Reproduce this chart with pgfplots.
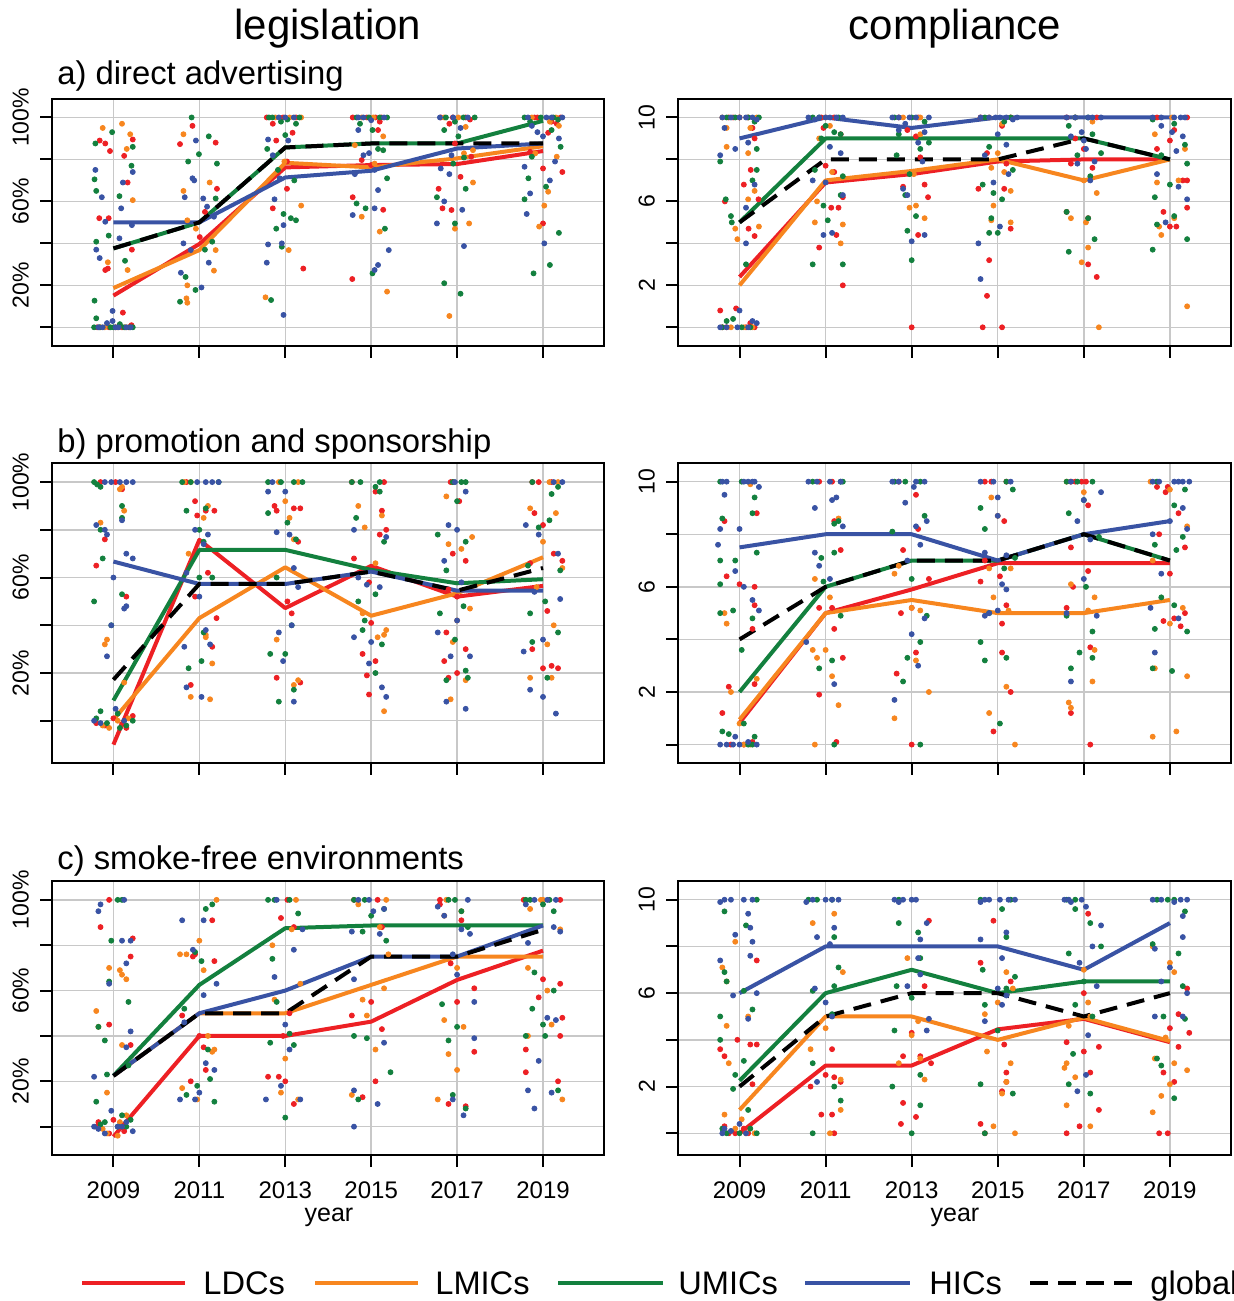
\documentclass[border=0pt]{standalone}
\usepackage{fontspec}
\setmainfont{Liberation Sans}
\usepackage{pgfplots}
\pgfplotsset{compat=1.18}
\definecolor{cL}{RGB}{237,32,36}
\definecolor{cM}{RGB}{247,134,31}
\definecolor{cU}{RGB}{19,128,62}
\definecolor{cH}{RGB}{57,83,164}
\definecolor{gridc}{RGB}{200,200,200}
\pgfplotsset{
  panel/.style={
    scale only axis, anchor=south west, width=276pt,
    xmin=2007.57, xmax=2020.42,
    xtick={2009,2011,2013,2015,2017,2019},
    xticklabels={},
    tick align=outside, tick pos=left,
    major tick length=6pt,
    major tick style={black, line width=1pt},
    axis line style={black, line width=1pt},
    grid=major, major grid style={gridc, line width=0.7pt},
    yticklabel style={rotate=90, anchor=south, font=\fontsize{11.5}{13}\selectfont},
    yticklabel shift=2pt,
    xticklabel style={font=\fontsize{12}{14}\selectfont},
    xticklabel shift=4pt,
    clip=true,
  },
  legis/.style={ytick={0,20,40,60,80,100}, yticklabels={,20\%,,60\%,,100\%}},
  compl/.style={ytick={0,2,4,6,8,10}, yticklabels={,2,,6,,10}},
  yrlab/.style={xticklabels={2009,2011,2013,2015,2017,2019}},
  dL/.style={only marks, mark=*, mark size=1.25pt, color=cL, mark options={draw=none, fill=cL}},
  dM/.style={only marks, mark=*, mark size=1.25pt, color=cM, mark options={draw=none, fill=cM}},
  dU/.style={only marks, mark=*, mark size=1.25pt, color=cU, mark options={draw=none, fill=cU}},
  dH/.style={only marks, mark=*, mark size=1.25pt, color=cH, mark options={draw=none, fill=cH}},
  lL/.style={cL, line width=2pt, mark=none, line join=round},
  lM/.style={cM, line width=2pt, mark=none, line join=round},
  lU/.style={cU, line width=2pt, mark=none, line join=round},
  lH/.style={cH, line width=2pt, mark=none, line join=round},
  lG/.style={black, line width=2pt, mark=none, dash pattern=on 9pt off 5pt},
}
\begin{document}
\begin{tikzpicture}
\path[use as bounding box] (0,0) rectangle (617pt,650.5pt);

% ---------------- a) legislation
\begin{axis}[panel, legis, at={(26pt,477.5pt)}, height=123.5pt, ymin=-8.9, ymax=108.8]
\addplot[dL] coordinates {(2008.68,89)(2008.81,87.6)(2008.92,84)(2009.25,81.7)(2009.45,89.5)(2009.33,69)(2008.67,52)(2008.89,52)(2009.43,37)(2008.87,28)(2008.81,27.3)(2009.22,7)(2008.9,0)(2009.2,0)(2009.35,0)
(2010.84,96)(2010.55,87.3)(2011.38,88)(2011.41,66)(2011.13,55)(2011.01,43)
(2012.57,100)(2013.25,100)(2012.71,97)(2012.79,89)(2013.17,92.7)(2013.04,79)(2013.04,66)(2012.71,56.7)(2013.42,28)
(2014.57,100)(2015.24,100)(2015.2,98)(2015.16,94)(2014.78,79.7)(2015,77.3)(2014.57,62)(2015.28,56)(2014.56,23)
(2016.62,100)(2017.2,100)(2016.82,97)(2016.95,87.6)(2017.33,81.3)(2017.08,71.7)(2016.57,66)(2016.87,55.9)(2016.66,56.7)
(2018.87,100)(2019.41,100)(2019.32,97)(2019.12,92.7)(2018.7,83.6)(2019,75.7)(2019.45,74)(2019,49.5)
(2008.62,0)(2009.05,0)(2009.42,1)(2012.95,100)(2014.9,100)(2015.1,100)(2016.9,100)(2017.3,99)(2018.8,100)(2019.2,98)};
\addplot[dM] coordinates {(2008.75,95)(2009.2,97)(2009.39,92)(2009.31,85)(2009.45,60.6)(2008.87,31)(2009.33,27.3)(2008.7,0)(2009.1,0)
(2010.63,92)(2011.24,69)(2010.63,65)(2010.72,51)(2010.92,47)(2011.38,36.8)(2011.34,27)(2010.72,20)(2010.7,13.8)(2010.72,11.7)
(2012.77,100)(2013.37,100)(2012.98,79)(2013.37,58)(2013.08,36.8)(2012.54,14.3)
(2014.78,100)(2015.28,91)(2014.62,86.8)(2015.08,78)(2014.78,52.7)(2015.2,45.6)(2015.37,17)
(2017.03,100)(2017.2,95.5)(2017.37,84.4)(2017.16,82.9)(2017.37,69)(2017.28,49.5)(2016.95,47)(2016.82,5.4)
(2018.74,100)(2019.16,98)(2019.37,96)(2018.82,82.9)(2019.32,81.3)(2019.12,64.6)(2019.03,58)(2018.91,48)
(2008.8,0)(2009.28,0)(2013.1,100)(2015.05,100)(2016.7,100)(2019.3,100)};
\addplot[dU] coordinates {(2008.58,87.6)(2008.97,93)(2009.45,86)(2009.42,77)(2008.56,70.5)(2008.6,65)(2009.14,62.5)(2008.89,43.7)(2008.6,40.8)(2009.27,31.7)(2008.56,12.7)(2008.6,4.3)(2008.55,0)(2009,0)(2009.25,0)(2009.45,0)
(2010.82,100)(2011.22,91)(2010.99,82.5)(2010.74,79)(2011.41,78)(2011.38,61.4)(2011.3,40.8)(2011.13,37)(2010.68,24)(2010.91,17.8)(2010.55,12.2)
(2012.62,100)(2013.33,100)(2012.9,98)(2013.25,97)(2012.58,85)(2013,91.6)(2012.83,75)(2013.21,70)(2012.96,54)(2013.13,52)(2013.25,51)(2012.79,47)(2012.92,38.4)(2012.67,13)
(2014.66,100)(2015.37,100)(2014.74,97)(2015.03,94)(2015.28,84.4)(2015.16,85)(2015.37,71)(2014.66,59)(2014.87,56.7)(2015.32,47)(2015.03,25.7)
(2016.74,100)(2017.41,100)(2016.7,94)(2017.03,91)(2017.16,80.9)(2016.91,78)(2017.2,66)(2016.53,62)(2016.95,49.5)(2016.7,21)(2017.08,16)
(2018.57,100)(2019.24,100)(2018.7,98)(2019.2,94)(2019.41,86)(2018.74,81.3)(2018.66,71)(2018.57,61)(2019.07,67)(2019.37,45)(2018.78,25.7)(2019.16,29.7)
(2008.68,0)(2008.93,0)(2009.15,1.5)(2009.38,0)(2012.7,100)(2013.05,99)(2014.95,100)(2015.2,100)(2017.15,100)(2016.95,98)(2018.95,100)(2019.35,99)};
\addplot[dH] coordinates {(2008.58,75)(2008.73,62)(2009.22,69)(2009.45,74)(2009.18,56.7)(2008.81,50.3)(2009.43,48.7)(2009.14,42.4)(2008.6,37)(2008.68,33)(2008.98,7.8)(2008.85,2)(2008.65,0)(2009.05,0)(2009.3,0)
(2010.92,89)(2010.84,71)(2010.88,70)(2010.66,62)(2011.09,61.4)(2011.18,57.5)(2011.34,52.7)(2010.63,40)(2010.8,36.8)(2011.22,30.8)(2010.57,26)(2011.05,19)
(2013,100)(2012.6,89.5)(2013.07,89)(2012.71,82)(2012.87,71)(2012.75,61)(2012.96,48.7)(2012.6,39.5)(2012.57,30.8)(2012.96,5.9)(2012.92,40)
(2014.82,100)(2015,98.7)(2014.7,94)(2014.82,82)(2014.95,83)(2015.08,75)(2014.62,73)(2015.16,65.4)(2014.57,53.5)(2015.08,56.7)(2015.41,36.8)(2015.16,29.7)(2015.08,27.3)
(2016.91,100)(2017.08,95)(2016.87,82)(2016.62,75.7)(2016.82,73)(2016.7,60)(2017.12,56)(2016.53,49.5)(2017.16,38.7)
(2019.08,100)(2018.74,96)(2018.87,93)(2019,91)(2019.37,90)(2019.28,79)(2018.57,76.5)(2019.16,70)(2018.7,63.8)(2018.62,54)(2019.03,40)
(2008.75,0)(2008.98,3)(2009.12,0)(2009.4,0)(2012.85,100)(2013.2,100)(2014.7,100)(2015.3,100)(2017.25,100)(2016.6,100)(2018.65,100)(2019.2,100)(2019.45,100)};
\addplot[lL] coordinates {(2009,15.1)(2011,39.7)(2013,76.2)(2015,77.3)(2017,77.8)(2019,84)};
\addplot[lM] coordinates {(2009,18.7)(2011,36.8)(2013,78.4)(2015,76.2)(2017,80.5)(2019,86.3)};
\addplot[lU] coordinates {(2009,37.6)(2011,50)(2013,85.7)(2015,87.6)(2017,87.6)(2019,98.4)};
\addplot[lH] coordinates {(2009,50)(2011,50)(2013,71.4)(2015,74.6)(2017,85.2)(2019,87.6)};
\addplot[lG] coordinates {(2009,37.6)(2011,50)(2013,85.7)(2015,87.6)(2017,87.6)(2019,87.6)};
\end{axis}

% ---------------- a) compliance
\begin{axis}[panel, compl, at={(339pt,477.5pt)}, width=276.5pt, height=123.5pt, ymin=-0.89, ymax=10.88]
\addplot[dL] coordinates {(2008.55,0.8)(2008.92,0.9)(2008.7,0)(2009.15,0)(2009.35,0)(2009,10)(2008.75,10)(2009.3,9.5)(2009.35,9)(2009.26,7.5)(2008.66,6)(2009.44,6.1)(2009.35,4.35)(2009.21,4.7)(2009.1,6.8)
(2010.9,10)(2011.2,10)(2010.95,9.5)(2011.35,9.2)(2011,7.7)(2011.2,7.4)(2010.85,3.8)(2011.13,5.7)(2011.4,6.2)(2011.4,2)(2011.25,4.4)(2011.3,5.7)
(2012.7,10)(2013.15,10)(2012.9,9.4)(2013.1,9.1)(2013.2,8.1)(2013.3,6.8)(2012.8,6.7)(2013.38,6.2)(2013.15,4.4)(2013,0)
(2014.6,10)(2015.3,10)(2015.1,9.6)(2014.75,8.3)(2015.2,7.8)(2014.55,6.6)(2015.15,6.6)(2015.3,4.7)(2014.8,3.2)(2014.75,1.5)(2014.65,0)(2015.1,0)
(2016.6,10)(2017.3,10)(2016.8,9)(2017,8.5)(2017.2,7.6)(2016.6,5.5)(2017.1,5.2)(2017.1,3)(2017.3,2.4)(2016.7,7.8)
(2018.7,10)(2019.4,10)(2019.1,9.4)(2019,8.9)(2018.7,8.5)(2019.4,7)(2018.85,5.5)(2019,4.8)(2019.15,4.8)(2019.4,5.7)(2019.3,7)
(2008.85,10)(2009.2,10)(2008.6,0)(2009.25,0.2)};
\addplot[dM] coordinates {(2008.7,9.5)(2009,10)(2009.25,9.5)(2008.7,8.6)(2009.2,8.3)(2008.95,4.2)(2008.9,4.7)(2009.35,6.5)(2009.45,4.8)(2009.2,6.1)(2009.1,0)
(2010.85,9)(2011.1,9.6)(2010.8,6)(2010.75,5)(2011.35,4)(2011.4,4.9)(2011.15,7.4)(2011,10)
(2012.8,10)(2013.2,10)(2013.2,9.2)(2013.05,7.3)(2012.95,5.7)(2013.3,5.2)(2013.1,5.8)
(2014.8,10)(2015.1,9.7)(2014.85,7.6)(2015.15,7.4)(2014.9,5.8)(2014.85,5.1)(2015.3,5)(2015.3,6.5)(2015,8.3)
(2016.8,10)(2017.2,9.8)(2017,7)(2017.3,6.4)(2016.7,5.2)(2017.05,5)(2016.95,3.1)(2017.1,3.8)(2017.35,0)
(2018.65,9.2)(2019.05,10)(2018.7,6.9)(2019.1,5.2)(2018.75,4.8)(2018.8,4.4)(2019.2,7)(2019.4,1)(2019.35,8.5)
(2008.6,10)(2009.4,10)(2008.8,0)(2009.3,0)};
\addplot[dU] coordinates {(2008.55,7.9)(2008.7,10)(2009.2,10)(2009.35,9.8)(2009.4,8.5)(2008.68,6.1)(2008.8,5.3)(2008.82,5)(2009.4,7.5)(2009.3,7)(2009.15,3)(2008.6,0)(2009.25,0)(2008.85,0.4)
(2010.7,10)(2011,9.6)(2011.35,9.2)(2011.2,9.3)(2010.9,9)(2010.75,7.5)(2011.35,6.3)(2011.4,7.2)(2010.95,5.8)(2010.7,3)(2011.4,3)(2011.05,5.1)
(2012.6,10)(2013,10)(2013.3,9.8)(2012.7,9.2)(2013.2,8.5)(2013.4,8.8)(2012.65,8.2)(2012.95,7.3)(2012.85,6.3)(2013.1,5.3)(2012.9,4.6)(2013,3.2)
(2014.7,10)(2015.3,10)(2015.15,9.8)(2014.8,8.6)(2015.35,7.5)(2014.65,6.8)(2014.9,6.4)(2015.1,6.1)(2014.85,5.2)(2015,4.5)(2014.8,4.5)
(2016.8,10)(2017.1,10)(2016.65,9.6)(2017.2,9.2)(2016.85,8.2)(2017.15,7.2)(2016.6,5.5)(2017.1,5.2)(2017.25,4.2)(2016.65,3.6)(2017.4,8.3)
(2018.6,9.9)(2019.1,9.7)(2019.35,8.7)(2018.8,8.2)(2019.4,7.8)(2018.65,6.2)(2019,6.8)(2018.7,4.9)(2019.1,5.3)(2019.4,4.2)(2018.6,3.7)
(2008.9,10)(2009.45,10)(2008.7,0.3)(2009.05,0)(2010.85,10)(2011.3,10)};
\addplot[dH] coordinates {(2008.55,8.2)(2008.65,9.5)(2008.9,8.5)(2009,10)(2009.3,10)(2009.4,9.9)(2009.2,8.8)(2009.35,6.8)(2009.15,5.7)(2009.15,4)(2009,0.8)(2008.7,0)(2009.2,0)(2009.3,0.3)
(2010.75,9.9)(2011,10)(2011.25,10)(2011.35,8.3)(2011.1,8.6)(2010.7,7)(2011,6.9)(2011.4,6.3)(2011.15,4.5)(2010.95,4.4)
(2012.7,10)(2013.1,10)(2012.85,9.7)(2013.3,9.3)(2013.15,8.8)(2012.8,6.6)(2012.9,6.3)(2013.25,7.9)(2013,4.1)(2013.3,4.4)(2012.7,9.4)
(2014.8,10)(2015.05,10)(2015.35,9.9)(2015,9.2)(2014.7,8.2)(2015.2,8.7)(2015.25,7.3)(2014.9,6.9)(2015.05,4.8)(2014.55,4)(2014.6,2.3)
(2016.6,10)(2017.2,10)(2016.95,9.3)(2016.7,9.1)(2017.05,8.5)(2017.25,7.9)(2016.85,7.8)(2017.15,7)(2017,8.9)
(2018.6,10)(2019.35,10)(2018.8,9.6)(2019.05,9.3)(2019.3,9.1)(2019.15,8.4)(2018.7,7.3)(2019.4,6.1)(2019.2,6.7)(2018.9,5)
(2008.6,10)(2008.8,10)(2009.15,10)(2008.55,0)(2008.95,0)(2009.4,0.2)(2010.6,10)(2010.85,10)(2011.1,10)(2011.4,10)(2012.55,10)(2012.95,10)(2013.4,10)(2014.6,10)(2014.95,10)(2015.2,10)(2015.45,10)(2016.8,10)(2017.1,10)(2017.4,10)(2018.8,10)(2019.1,10)(2019.25,10)};
\addplot[lL] coordinates {(2009,2.4)(2011,6.9)(2013,7.3)(2015,7.9)(2017,8)(2019,8)};
\addplot[lM] coordinates {(2009,2.0)(2011,7.0)(2013,7.45)(2015,8)(2017,7.0)(2019,8)};
\addplot[lU] coordinates {(2009,5)(2011,9)(2013,9)(2015,9)(2017,9)(2019,8)};
\addplot[lH] coordinates {(2009,9)(2011,10)(2013,9.5)(2015,10)(2017,10)(2019,10)};
\addplot[lG] coordinates {(2009,5)(2011,8)(2013,8)(2015,8)(2017,9)(2019,8)};
\end{axis}

% ---------------- b) legislation
\begin{axis}[panel, legis, at={(26pt,269pt)}, height=150pt, ymin=-17.7, ymax=108]
\addplot[dL] coordinates {(2008.7,100)(2009.2,97)(2008.8,76)(2009.3,52)(2008.6,65)(2008.8,-2)(2009,1)(2009.2,-1.5)(2009.45,2)
(2010.7,100)(2010.9,92)(2010.95,86)(2011.15,88)(2011.35,88)(2011.2,62)(2010.9,52)(2011.4,43)(2011.3,31)(2010.8,15)
(2012.75,90)(2012.8,88)(2013.2,89)(2013.35,89)(2013.3,75)(2013.05,50)(2013.15,45)(2012.8,18)(2013.35,16)
(2014.55,100)(2015.1,96)(2015.25,88)(2015.2,78)(2015.35,80)(2014.95,58)(2014.6,68)(2015,41)(2014.8,28)(2015.1,25)(2014.9,19)(2014.95,11)
(2016.85,100)(2017.05,92)(2016.9,70)(2017.2,67)(2016.8,55)(2017,52)(2016.75,37)(2016.7,25)(2017,20)(2017.2,30)(2016.8,18)
(2018.75,100)(2019.2,100)(2018.8,87)(2019,82)(2018.7,66)(2019.25,70)(2019.45,67)(2019.1,46)(2018.75,30)(2019,22)(2019.2,23)(2019.35,22)
(2009.05,100)(2008.6,-1)(2009.3,-3)(2015.3,100)(2016.9,100)(2018.9,100)};
\addplot[dM] coordinates {(2008.7,83)(2009.15,97)(2009.2,98)(2009.25,88)(2008.85,34)(2008.8,32)(2009.25,16)(2008.9,-3)(2009.1,0)
(2010.65,100)(2011.1,85)(2011.2,90)(2010.75,70)(2011.15,36)(2011.15,35)(2010.8,10)(2011.25,9)(2011.3,24)
(2012.85,100)(2013,92)(2013.1,85)(2013.2,76)(2012.8,34)(2013.3,17)(2013.2,15)
(2014.7,90)(2014.85,81)(2015.25,86)(2015.1,66)(2014.8,45)(2015.3,36)(2015.15,35)(2015.35,38)(2015.3,4)
(2016.75,94)(2016.8,74)(2017.1,72)(2017.35,77)(2017.3,47)(2017,42)(2016.9,33)(2017.2,17)(2016.85,9)
(2018.7,89)(2019.15,100)(2019.3,87)(2019.45,64)(2019,75)(2018.85,56)(2019.1,32)(2019.25,40)(2019.2,18)(2018.7,18)
(2008.75,-2)(2009.35,1)(2010.8,100)(2013.3,100)(2019.35,100)};
\addplot[dU] coordinates {(2008.55,100)(2008.7,98)(2009.2,90)(2009.2,85)(2008.7,80)(2008.75,68)(2008.55,50)(2009.2,53)(2008.95,40)(2008.7,4)(2009.1,3)(2009.45,0)(2008.85,-1)(2009.3,-2)
(2010.8,100)(2011.45,100)(2011,80)(2011.15,89)(2010.7,88)(2011.1,75)(2011.3,60)(2011.1,37)(2011.05,25)(2010.75,22)(2011,60)
(2012.6,100)(2013.2,100)(2013.4,100)(2012.6,87)(2013.05,83)(2013.25,76)(2012.8,60)(2013.15,40)(2012.65,28)(2013,28)(2013.2,13)(2012.85,8)
(2014.55,100)(2015.1,98)(2015.2,96)(2014.65,85)(2015.3,75)(2015.1,53)(2014.7,50)(2014.85,42)(2015.25,32)(2015.1,20)(2014.8,38)
(2016.9,100)(2017.1,100)(2017,92)(2016.55,78)(2017.2,75)(2016.75,63)(2017.15,48)(2016.6,45)(2016.95,34)(2017.2,21)(2017.25,18)(2016.75,17)
(2018.75,100)(2019.35,98)(2019.2,95)(2018.9,81)(2019.15,84)(2018.65,65)(2019.4,63)(2018.7,45)(2019.05,50)(2019.35,37)(2018.75,33)(2019.1,18)
(2008.62,99)(2008.6,1)(2009.15,-3)(2010.6,100)(2012.9,100)(2014.75,100)(2015.2,100)(2017.2,100)};
\addplot[dH] coordinates {(2008.8,100)(2009.3,100)(2009.45,100)(2008.6,82)(2009.2,84)(2008.85,78)(2008.8,80)(2009.3,70)(2009.45,68)(2009,60)(2009.3,48)(2009.25,47)(2008.95,40)(2008.85,27)(2008.55,0)(2009.05,5)
(2010.95,100)(2011.3,100)(2011.45,100)(2010.9,80)(2011.1,74)(2011.2,78)(2010.7,62)(2011,52)(2011.15,38)(2010.65,31)(2011.25,32)(2010.7,14)(2011.05,10)
(2012.6,96)(2013,96)(2012.8,79)(2013.1,78)(2013.2,64)(2013.3,56)(2012.85,37)(2013.15,40)(2012.95,25)(2013.2,8)
(2014.6,80)(2015.35,77)(2014.7,60)(2014.9,57)(2015.2,56)(2014.6,35)(2015,33)(2014.95,24)(2015.25,14)(2015.35,10)
(2017.2,96)(2016.8,82)(2017,80)(2016.7,67)(2017.1,58)(2016.55,37)(2017,42)(2016.85,27)(2017.3,27)(2016.75,8)(2017.2,5)
(2018.6,82)(2019.25,100)(2018.9,78)(2019.35,70)(2018.8,54)(2019.4,51)(2018.55,29)(2019,34)(2018.7,13)(2019,10)(2019.3,3)
(2008.95,100)(2009.15,100)(2008.7,-1)(2009.25,0)(2011.15,100)(2012.7,100)(2016.95,100)(2019.45,100)};
\addplot[lL] coordinates {(2009,-10)(2011,75.8)(2013,47.2)(2015,64.9)(2017,52)(2019,56.5)};
\addplot[lM] coordinates {(2009,0.4)(2011,43)(2013,64.3)(2015,44)(2017,53.4)(2019,68.5)};
\addplot[lU] coordinates {(2009,8.5)(2011,71.6)(2013,71.6)(2015,63.2)(2017,57.6)(2019,59.3)};
\addplot[lH] coordinates {(2009,66.7)(2011,57.3)(2013,57.3)(2015,62.5)(2017,54.5)(2019,54.5)};
\addplot[lG] coordinates {(2009,17.2)(2011,57.3)(2013,57.3)(2015,62.5)(2017,54.5)(2019,64)};
\end{axis}

% ---------------- b) compliance
\begin{axis}[panel, compl, at={(339pt,269pt)}, width=276.5pt, height=150pt, ymin=-0.70, ymax=10.71]
\addplot[dL] coordinates {(2008.65,8.5)(2009.4,8.8)(2008.7,6.4)(2009,6.1)(2009.35,6)(2009.35,5.3)(2009.3,4.4)(2008.75,2.2)(2009.35,2.3)(2008.6,1.2)(2009.1,0)(2008.8,0)
(2010.85,10)(2011.15,10)(2011.2,8.5)(2011.35,7.4)(2010.85,5.2)(2011.15,5.2)(2011.2,4.4)(2011.4,3.3)(2010.85,1.9)(2011.25,0.1)
(2012.7,10)(2013.1,9.5)(2013.15,8.2)(2012.8,7.4)(2013.4,6.3)(2012.75,5)(2013,5.2)(2013.1,3.5)(2012.65,2.7)(2013,0)
(2014.7,10)(2015.2,10)(2015.15,8.5)(2014.7,7)(2015.05,6.4)(2014.6,6.2)(2015.2,5.3)(2015.1,4.6)(2015.1,3.5)(2015.3,2)(2014.9,0.5)
(2016.7,10)(2017.05,10)(2017.1,9.1)(2016.7,7.5)(2017.1,6.6)(2016.6,5.2)(2016.75,6)(2017.15,3.7)(2016.7,1.2)(2017.15,0)
(2018.7,9.8)(2018.9,9.6)(2019.2,8.8)(2019.35,7.5)(2018.75,8)(2019,6.5)(2019.1,4.8)(2018.85,4.7)(2019.35,5)(2019.25,4.5)
(2009.3,0.1)(2014.85,10)(2016.8,10)(2016.95,10)(2018.95,9.8)};
\addplot[dM] coordinates {(2009.25,9.9)(2008.65,5)(2008.7,4.6)(2009.4,2.5)(2008.8,2)(2009.1,0)(2009,0.8)
(2010.75,6.3)(2010.7,3.6)(2010.8,3.3)(2011,3.6)(2011.15,2.6)(2011.3,8.6)(2011.3,1.5)(2010.75,0)(2011.1,5.6)
(2012.6,6.5)(2012.7,6.8)(2013,5.2)(2013.2,5.1)(2013.4,2)(2012.6,1)(2013.1,3.2)
(2014.85,9.4)(2015,8.7)(2014.8,6.7)(2015.3,6.7)(2014.9,5.6)(2015.25,5.1)(2015.2,2.2)(2014.8,1.2)(2015.4,0)
(2016.6,10)(2017,9.6)(2016.7,6.1)(2017.1,5.1)(2017.25,5.6)(2017.25,3.6)(2016.65,1.6)(2016.7,1.4)(2017.2,2.4)
(2018.55,10)(2019,9.7)(2019.4,8.3)(2018.6,7)(2019.3,5.2)(2019,4.6)(2018.65,2.9)(2019.4,2.6)(2018.6,0.3)(2019.15,0.5)
(2009.25,0)};
\addplot[dU] coordinates {(2008.55,10)(2008.6,8.6)(2009.35,9.4)(2009.3,8.8)(2008.55,7)(2008.55,6.1)(2008.9,7)(2008.55,5)(2008.85,5.1)(2009.3,4.8)(2009.4,7.3)(2009.05,3.6)(2008.6,0.5)(2009.1,0.8)(2009.35,0.3)(2009.2,0)
(2010.7,10)(2011.35,10)(2011.2,8.4)(2011.3,8.5)(2010.9,7.1)(2011.2,7.3)(2010.95,6.2)(2011.35,4.9)(2010.85,2.9)(2011.15,3.2)(2011.2,0)
(2012.6,10)(2013.2,10)(2013.3,8.7)(2012.55,8.1)(2013,6.3)(2013.35,4.9)(2013.2,3.9)(2012.9,3.3)(2012.8,2.4)(2013.2,0)
(2014.6,9)(2015.2,10)(2015.35,9.7)(2014.7,8.2)(2015.15,6.7)(2015.4,7.1)(2014.8,5)(2014.6,3.9)(2015.2,3.3)(2014.7,3.2)(2015.05,0.8)
(2016.6,10)(2017.2,10)(2016.65,8.8)(2017,9.3)(2017.35,7.9)(2017.05,6)(2016.6,4.9)(2017.2,4.3)(2017.2,3.3)(2016.7,2.9)(2016.9,3.5)
(2018.7,10)(2019.35,9.7)(2019.1,9.1)(2018.65,7.6)(2019.15,7.4)(2019.3,7.9)(2018.8,5.6)(2019.1,5.3)(2018.65,4.4)(2019.4,4.3)(2018.6,2.9)(2019.05,2.8)
(2009.05,10)(2008.75,0.4)(2009.3,0)(2011.4,10)(2012.85,10)(2016.85,10)};
\addplot[dH] coordinates {(2008.55,8.2)(2008.65,9.5)(2008.6,10)(2009.1,10)(2009.3,10)(2009.45,9.8)(2009,8.2)(2008.5,7.6)(2008.9,6.6)(2009.1,6)(2009.3,5.5)(2009.45,5.1)(2008.7,0)(2009,0)(2008.9,0.3)(2009.4,0)
(2010.6,10)(2010.8,10)(2011.15,9.3)(2011.25,9.4)(2010.75,9)(2011.4,8.3)(2010.85,6.8)(2010.75,7.3)(2011.1,6.3)(2010.55,3.9)(2011.2,2.3)
(2012.55,10)(2013.3,10)(2013.05,9.8)(2012.85,9.2)(2013.1,8.3)(2013.35,8.5)(2013.2,7.6)(2012.9,7)(2013,4.2)(2013.3,4.8)(2012.6,1.7)(2013.15,3)
(2014.6,10)(2015.3,10)(2015,9.4)(2015,8.7)(2014.7,7.3)(2015.1,6.1)(2015.2,5.9)(2014.7,4.9)(2015,5.1)(2014.8,5)(2015.2,7.2)
(2016.7,10)(2017,9.3)(2017.4,9.6)(2016.85,8.5)(2017.15,7.8)(2017,6.3)(2016.6,5)(2017.3,4.9)(2016.7,2.4)
(2018.6,10)(2019.1,10)(2019.3,10)(2019.3,9)(2018.6,8)(2019,8.5)(2019.4,8.2)(2018.8,6.5)(2018.55,5.2)(2019.2,4.8)(2018.65,3.5)
(2008.7,10)(2009.2,10)(2009.35,10)(2008.55,0)(2008.85,0)(2009.2,0.1)(2011.1,10)(2011.35,10)(2012.7,10)(2013.1,10)(2014.9,10)(2018.75,10)(2019.2,10)(2019.45,10)};
\addplot[lL] coordinates {(2009,0.83)(2011,5.0)(2013,5.9)(2015,6.9)(2017,6.9)(2019,6.9)};
\addplot[lM] coordinates {(2009,0.95)(2011,5.0)(2013,5.5)(2015,5.0)(2017,5.0)(2019,5.5)};
\addplot[lU] coordinates {(2009,2)(2011,6)(2013,7)(2015,7)(2017,8)(2019,7)};
\addplot[lH] coordinates {(2009,7.5)(2011,8)(2013,8)(2015,7)(2017,8)(2019,8.5)};
\addplot[lG] coordinates {(2009,4)(2011,6)(2013,7)(2015,7)(2017,8)(2019,7)};
\end{axis}

% ---------------- c) legislation
\begin{axis}[panel, legis, yrlab, at={(26pt,73pt)}, height=136.75pt, ymin=-12.5, ymax=108.1]
\addplot[dL] coordinates {(2008.9,100)(2008.7,88)(2009.45,83)(2009.4,75)(2008.9,45)(2009.4,36)(2008.65,2)(2008.9,-3)(2009.2,0)(2009,3)
(2010.85,75)(2011.3,91)(2010.9,76)(2011.35,73)(2011,40)(2010.6,49)(2011.15,25)(2010.8,20)(2011.1,35)
(2012.9,92)(2013.2,88)(2013.1,50)(2012.6,22)(2013,20)(2012.85,22)(2013.2,10)(2012.95,40)
(2014.6,100)(2015.25,88)(2015,55)(2014.55,49)(2015.25,43)(2015.1,20)(2014.8,13)
(2016.6,98)(2017.1,91)(2016.85,72)(2017,55)(2017.4,61)(2016.8,10)(2017.2,9)(2017.4,33)
(2018.55,100)(2018.6,34)(2019.45,48)(2019.4,63)(2019.4,40)(2019,65)(2018.6,24)(2019.35,20)(2018.9,57)
(2008.6,0)(2009.25,-2)(2013.05,100)(2015.15,100)(2016.6,100)(2019.4,100)};
\addplot[dM] coordinates {(2008.6,51)(2008.65,44)(2008.9,70)(2009.15,69)(2009.2,67)(2009.3,65)(2009.2,36)(2008.85,15)(2009.3,5)(2008.75,-1)(2009.1,-4)
(2011.4,100)(2010.55,76)(2010.7,76)(2011,82)(2011.1,69)(2011.35,34)(2010.6,17)(2010.95,12)(2011.3,33)(2011.2,40)
(2012.7,80)(2013.15,87)(2012.75,56)(2013.35,63)(2013,30)(2013.3,12)(2012.9,15)
(2014.7,98)(2015.2,88)(2015.4,76)(2014.8,56)(2015.3,61)(2015.1,34)(2014.55,14)(2014.9,49)
(2016.7,93)(2017.1,95)(2017,70)(2016.7,47)(2017.15,44)(2016.8,32)(2017,25)(2016.55,12)
(2019,100)(2018.7,96)(2019.4,87)(2018.65,70)(2019.1,60)(2019.2,45)(2019.45,12)(2018.65,40)
(2008.85,-3)(2009.15,2)(2013.25,100)(2015.35,100)(2016.75,100)(2018.95,100)};
\addplot[dU] coordinates {(2009.1,100)(2009.2,100)(2008.95,82)(2008.9,64)(2009.35,55)(2008.65,44)(2008.8,38)(2009.35,27)(2008.85,23)(2008.6,11)(2009.2,5)(2009.4,3)(2008.7,1)(2009.1,0)
(2011.15,96)(2011.3,98)(2010.65,52)(2010.9,77)(2011.05,73)(2011.25,21)(2011.35,11)(2010.7,14)(2010.95,18)(2011.2,34)
(2012.6,100)(2013.1,100)(2013.3,94)(2012.7,74)(2012.8,55)(2013.1,41)(2012.65,37)(2013,4)(2013.2,36)
(2014.6,100)(2015.3,96)(2015,93)(2014.8,86)(2015.35,82)(2014.6,40)(2015.45,24)(2014.9,39)(2014.7,12)
(2016.8,100)(2017.1,95)(2017.25,88)(2016.65,54)(2017,44)(2016.8,38)(2017.2,8)(2016.9,14)
(2018.7,100)(2019,98)(2019.25,95)(2018.8,68)(2019.25,60)(2018.6,40)(2019.05,40)(2019.35,16)(2018.75,52)(2019,45)
(2008.8,2)(2009.3,0)(2012.75,100)(2014.85,100)(2016.95,100)(2018.6,100)(2019.15,100)};
\addplot[dH] coordinates {(2008.7,98)(2009.25,100)(2008.65,95)(2009.2,82)(2009.4,82)(2009.3,72)(2008.9,63)(2008.55,22)(2009.3,35)(2009.4,42)(2008.95,7)(2008.55,0)(2009.2,0)(2009.3,2)(2008.8,-3)
(2010.6,91)(2011.1,91)(2010.85,78)(2011.1,58)(2011.4,63)(2010.65,46)(2011.15,28)(2011.35,25)(2011,15)(2010.55,12)(2010.9,12)
(2012.8,100)(2013.4,87)(2013.2,78)(2012.75,66)(2013,45)(2013.1,34)(2012.55,12)(2013.35,12)(2012.9,18)
(2014.7,100)(2015.05,95)(2015.3,96)(2014.55,86)(2015.2,85)(2014.6,65)(2015.3,37)(2014.6,16)(2015.15,10)(2014.6,0)
(2016.55,97)(2016.7,93)(2017.1,87)(2017.3,85)(2016.9,76)(2017,67)(2017.4,55)(2017.4,39)(2016.9,12)(2017.15,5)
(2018.6,98)(2019.1,100)(2019.4,86)(2019.25,88)(2018.65,81)(2019.1,48)(2019.3,47)(2018.9,29)(2018.65,16)(2019.2,15)(2018.8,8)
(2008.65,-1)(2009.1,0)(2009.45,-2)(2014.95,100)(2017.25,100)(2018.8,100)(2019.3,100)};
\addplot[lL] coordinates {(2009,-4.4)(2011,40)(2013,40)(2015,46.3)(2017,64.7)(2019,77.6)};
\addplot[lM] coordinates {(2009,22.4)(2011,50)(2013,50)(2015,62.5)(2017,75)(2019,75)};
\addplot[lU] coordinates {(2009,22.4)(2011,62.5)(2013,87.5)(2015,88.7)(2017,88.7)(2019,88.7)};
\addplot[lH] coordinates {(2009,22.4)(2011,50)(2013,60)(2015,75)(2017,75)(2019,88.7)};
\addplot[lG] coordinates {(2009,22.4)(2011,50)(2013,50)(2015,75)(2017,75)(2019,86.8)};
\end{axis}

% ---------------- c) compliance
\begin{axis}[panel, compl, yrlab, at={(339pt,73pt)}, width=276.5pt, height=136.75pt, ymin=-0.93, ymax=10.78]
\addplot[dL] coordinates {(2008.55,3.6)(2008.65,3.3)(2008.95,4)(2009.25,3.8)(2009.4,3.8)(2009.4,7.4)(2009.3,2.1)(2008.65,0.3)(2009.1,0.2)(2008.9,0)
(2010.65,2)(2011,2.5)(2011.15,3.6)(2011.2,2.4)(2011.35,2.2)(2010.9,0.8)(2011.15,0.8)(2011.2,0)
(2012.8,3.3)(2013.2,3.3)(2013.45,3)(2013,4.3)(2012.8,1.3)(2012.75,0.4)(2013.1,0.7)(2013.4,9.1)(2013.3,6.3)
(2014.6,7.3)(2014.9,9.1)(2015.3,6.5)(2015.15,3.8)(2015.2,2.6)(2015.1,1.8)(2015.2,2.2)(2014.6,0.4)(2014.7,0)
(2017.1,9.4)(2016.6,3.9)(2017.35,3.7)(2017,3.5)(2017.15,2.6)(2016.9,0.3)(2016.6,0)(2017.35,1)(2017,6)
(2019.4,6.2)(2019.2,5.1)(2019.45,4.3)(2019,4.5)(2018.85,2.6)(2019.1,2.2)(2018.75,0)(2018.95,0)(2019.2,3.7)
(2008.75,0)(2009.2,0)};
\addplot[dM] coordinates {(2008.9,8.2)(2008.6,7.1)(2008.7,6.5)(2008.7,4.6)(2008.75,3)(2008.65,0.8)(2009.05,0.6)(2009.15,0)(2009.2,5)
(2010.7,9)(2011.2,9.4)(2010.65,3.6)(2011,4.5)(2011.4,6.9)(2011.35,2.3)(2011.35,1)(2011.1,0)
(2012.9,7.5)(2013.15,4.8)(2013.2,3.2)(2013.3,2.3)(2013,4.2)(2012.7,3)
(2014.7,5.1)(2015.2,6.9)(2015.35,6.2)(2015,5.6)(2014.75,3.5)(2015.3,3)(2015.1,1.7)(2015.2,2.2)(2014.9,0.3)(2015.4,0)
(2017,7)(2017.1,5.6)(2016.65,4.6)(2016.6,3)(2016.8,2.4)(2017.15,5)(2016.6,1.2)(2017.15,0.3)(2016.55,2.8)
(2018.6,8)(2019,7.3)(2019.1,6.9)(2018.65,3.2)(2018.9,4.1)(2019.4,2.7)(2019.1,3)(2018.6,0.9)(2018.8,1.6)(2019,2.1)
(2008.9,0.2)(2009.35,0)};
\addplot[dU] coordinates {(2008.65,9.5)(2009.15,8.9)(2009.4,10)(2008.65,6.9)(2008.7,6.5)(2008.55,5)(2009.1,6.1)(2009.3,5.3)(2008.55,4)(2009.1,3.1)(2008.9,2.5)(2008.85,1.9)(2009.2,1)(2008.6,0.2)(2009,0)(2009.4,0)
(2010.8,10)(2011.15,10)(2011.2,8.4)(2011.3,7.1)(2010.7,6.1)(2011.2,6.3)(2010.7,3)(2011.2,2)(2011.35,1.4)(2010.7,0)(2011.15,5.1)
(2012.7,10)(2012.7,9)(2013.15,8.6)(2013.2,7.5)(2012.65,6.3)(2013,5.8)(2012.6,4.4)(2013.2,2.5)(2012.55,2)(2013,0)(2013.2,1.2)
(2014.6,10)(2015.1,9.6)(2015.2,8.4)(2014.65,7)(2015.2,6.2)(2015.4,6.7)(2014.7,5.5)(2015,4.4)(2014.6,2.1)(2015.35,1.7)(2014.7,0)
(2016.6,10)(2016.8,9.6)(2017.15,9)(2017.4,8)(2016.65,7.7)(2017,6.5)(2016.8,5.5)(2017.2,5)(2016.75,3.4)(2017.15,1.7)(2016.65,2.1)
(2018.7,10)(2019.1,10)(2019.35,9.5)(2018.6,8.1)(2019.2,7.7)(2019.3,6.3)(2018.85,5)(2019.35,4.9)(2018.7,3.2)(2019.1,1.5)(2018.8,2.9)
(2008.7,0)(2009.25,0.2)(2010.6,10)(2015.3,10)(2016.8,10)(2018.95,10)};
\addplot[dH] coordinates {(2008.55,9.9)(2008.65,10)(2009.1,10)(2009.2,9.4)(2008.9,8.5)(2009.25,8.8)(2009.3,8.2)(2008.55,7.4)(2009.4,6)(2009.2,4.9)(2009.25,7.6)(2008.85,5.9)(2008.6,0)(2009,0.4)(2008.8,0.1)
(2010.55,9.9)(2011.15,10)(2011.3,10)(2010.8,8.4)(2011.2,8.8)(2011.1,8.1)(2010.75,6.2)(2011,5.6)(2011.15,5)(2010.8,2.2)
(2012.6,10)(2013,10)(2012.7,9.9)(2013.2,8.3)(2013.35,9)(2013.15,7.5)(2012.9,6.3)(2013.2,6.8)(2013.4,4.9)(2013.35,4.4)
(2014.6,9.9)(2014.8,10)(2015.25,10)(2015.4,10)(2015.2,8.6)(2014.6,8.3)(2015.1,7.5)(2015,6.2)(2014.7,4.8)(2015.1,5.5)(2015.2,5.9)
(2016.55,10)(2017.05,9.7)(2017.4,8.9)(2016.7,9.9)(2016.9,7.3)(2017.3,6.3)(2017.1,4.2)(2017.05,2.5)(2016.85,1.8)(2017.2,8)
(2018.6,10)(2019.1,9.9)(2019.4,10)(2019.3,9.3)(2018.65,7.9)(2019,7.1)(2019.4,6)(2018.8,6.5)(2019.3,5)(2018.65,5)(2019.3,8.4)
(2008.65,0.2)(2009.15,0)(2008.8,10)(2009.3,10)(2010.7,10)(2011,10)(2012.8,10)(2013.1,10)(2014.7,10)(2015.05,10)(2016.65,10)(2016.95,10)(2018.8,10)(2019.25,10)};
\addplot[lL] coordinates {(2009,0)(2011,2.9)(2013,2.9)(2015,4.45)(2017,4.9)(2019,3.9)};
\addplot[lM] coordinates {(2009,1.0)(2011,5.0)(2013,5.0)(2015,4.0)(2017,4.95)(2019,3.95)};
\addplot[lU] coordinates {(2009,2.25)(2011,6)(2013,7)(2015,6)(2017,6.5)(2019,6.5)};
\addplot[lH] coordinates {(2009,6)(2011,8)(2013,8)(2015,8)(2017,7)(2019,9)};
\addplot[lG] coordinates {(2009,2)(2011,5)(2013,6)(2015,6)(2017,5)(2019,6)};
\end{axis}

% ---------------- texts
\node[anchor=base, inner sep=0pt, font=\fontsize{21}{25}\selectfont] at (164pt,630.5pt) {legislation};
\node[anchor=base, inner sep=0pt, font=\fontsize{21}{25}\selectfont] at (477.5pt,630.5pt) {compliance};
\node[anchor=base west, inner sep=0pt, font=\fontsize{16.4}{20}\selectfont] at (28.5pt,608pt) {a) direct advertising};
\node[anchor=base west, inner sep=0pt, font=\fontsize{16.4}{20}\selectfont] at (28.5pt,424pt) {b) promotion and sponsorship};
\node[anchor=base west, inner sep=0pt, font=\fontsize{16.4}{20}\selectfont] at (28.5pt,215.5pt) {c) smoke-free environments};
\node[anchor=base, inner sep=0pt, font=\fontsize{12.5}{15}\selectfont] at (164.5pt,39.5pt) {year};
\node[anchor=base, inner sep=0pt, font=\fontsize{12.5}{15}\selectfont] at (477.5pt,39.5pt) {year};

% ---------------- legend
\draw[cL, line width=2.2pt] (41pt,9pt) -- (92.5pt,9pt);
\node[anchor=base west, inner sep=0pt, font=\fontsize{16.3}{20}\selectfont] at (101.5pt,3pt) {LDCs};
\draw[cM, line width=2.2pt] (157.5pt,9pt) -- (209pt,9pt);
\node[anchor=base west, inner sep=0pt, font=\fontsize{16.3}{20}\selectfont] at (217.5pt,3pt) {LMICs};
\draw[cU, line width=2.2pt] (279pt,9pt) -- (331.5pt,9pt);
\node[anchor=base west, inner sep=0pt, font=\fontsize{16.3}{20}\selectfont] at (339pt,3pt) {UMICs};
\draw[cH, line width=2.2pt] (402.5pt,9pt) -- (455pt,9pt);
\node[anchor=base west, inner sep=0pt, font=\fontsize{16.3}{20}\selectfont] at (464.5pt,3pt) {HICs};
\draw[black, line width=2.2pt, dash pattern=on 9pt off 5pt] (515pt,9pt) -- (566pt,9pt);
\node[anchor=base west, inner sep=0pt, font=\fontsize{16.3}{20}\selectfont] at (575pt,3pt) {global};
\end{tikzpicture}
\end{document}
